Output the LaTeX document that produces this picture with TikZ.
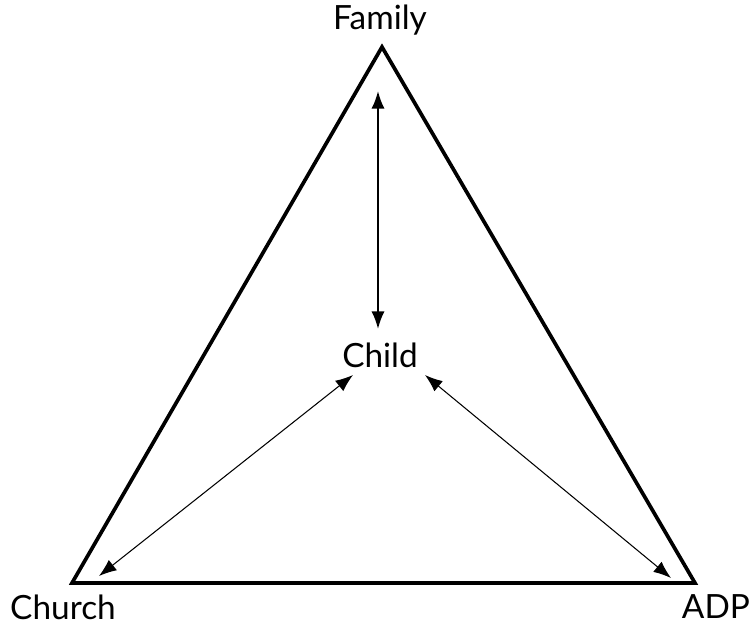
\documentclass[tikz,border=0pt]{standalone}
\usepackage{fontspec}
\setmainfont{Lato}
\usetikzlibrary{arrows.meta}

\begin{document}
\begin{tikzpicture}[
  x=0.02cm, y=-0.02cm,
  every node/.style = {font=\fontsize{19}{21}\selectfont},
  edge/.style       = {line width=2.1pt, line join=miter},
  thickarr/.style   = {{Latex[length=10pt,width=7.5pt]}-{Latex[length=10pt,width=7.5pt]}, line width=1.2pt},
  thinarr/.style    = {{Latex[length=10pt,width=7.5pt]}-{Latex[length=10pt,width=7.5pt]}, line width=0.6pt},
]
\useasboundingbox (0,0) rectangle (750,626);

% corners of the triangle
\coordinate (top)   at (382,47);
\coordinate (left)  at (72,583);
\coordinate (right) at (695,583);

% labels
\node (family) at (380,20)  {Family};
\node (child)  at (380,355) {Child};
\node (church) at (63,607)  {Church};
\node (adp)    at (716,607) {ADP};

% triangle
\draw[edge] (top) -- (left) -- (right) -- cycle;

% arrow ends
\coordinate (famin)   at (378,91);
\coordinate (childup) at (378,329);
\coordinate (childl)  at (353,375);
\coordinate (childr)  at (425,375);
\coordinate (churin)  at (99,576);
\coordinate (adpin)   at (671,578);

% arrows
\draw[thickarr] (famin) -- (childup);
\draw[thinarr]  (childl) -- (churin);
\draw[thinarr]  (childr) -- (adpin);

\end{tikzpicture}
\end{document}
